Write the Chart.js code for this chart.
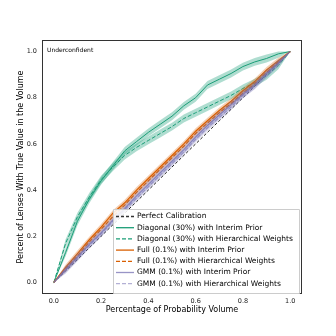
<!DOCTYPE html>
<html><head><meta charset="utf-8">
<script src="https://cdn.jsdelivr.net/npm/chart.js@4.4.1/dist/chart.umd.min.js"></script>
<style>html,body{margin:0;padding:0;background:#fff}#c{display:block}</style>
</head><body>
<canvas id="c" width="336" height="336"></canvas>
<script>
const xVals = [0,0.05,0.1,0.15,0.2,0.25,0.3,0.35,0.4,0.45,0.5,0.55,0.6,0.65,0.7,0.75,0.8,0.85,0.9,0.95,1];
const perfect = [0,0.05,0.1,0.15,0.2,0.25,0.3,0.35,0.4,0.45,0.5,0.55,0.6,0.65,0.7,0.75,0.8,0.85,0.9,0.95,1];
const diagInterim = [0,0.13,0.265,0.36,0.44,0.505,0.57,0.61,0.65,0.685,0.72,0.765,0.80,0.855,0.88,0.905,0.935,0.955,0.97,0.99,1];
const diagHier = [0,0.17,0.285,0.37,0.445,0.50,0.55,0.585,0.615,0.645,0.675,0.71,0.735,0.76,0.785,0.81,0.84,0.865,0.895,0.94,1];
const fullInterim = [0,0.065,0.125,0.185,0.24,0.30,0.345,0.40,0.45,0.50,0.55,0.60,0.655,0.70,0.745,0.785,0.83,0.87,0.92,0.96,1];
const fullHier = [0,0.06,0.115,0.175,0.23,0.285,0.335,0.39,0.44,0.49,0.54,0.59,0.645,0.69,0.735,0.775,0.82,0.86,0.91,0.955,1];
const gmmInterim = [0,0.055,0.11,0.165,0.215,0.27,0.32,0.375,0.425,0.475,0.525,0.575,0.63,0.68,0.725,0.77,0.815,0.855,0.905,0.95,1];
const gmmHier = [0,0.055,0.105,0.16,0.21,0.265,0.315,0.365,0.415,0.465,0.515,0.565,0.62,0.67,0.715,0.76,0.81,0.85,0.9,0.95,1];
const bandWidth = {diagInterim:0.017, diagHier:0.017, fullInterim:0.013, fullHier:0.011, gmmInterim:0.016, gmmHier:0.013};
const legendLabels = ["Perfect Calibration","Diagonal (30%) with Interim Prior","Diagonal (30%) with Hierarchical Weights","Full (0.1%) with Interim Prior","Full (0.1%) with Hierarchical Weights","GMM (0.1%) with Interim Prior","GMM (0.1%) with Hierarchical Weights"];
const xTicks = [0,0.2,0.4,0.6,0.8,1.0];

const GREEN='#1b9e77', ORANGE='#d95f02', PURPLE='#7570b3';
const pts = a => a.map((y,i)=>({x:xVals[i],y:y}));
const band = (a,w,s) => a.map((y,i)=>({x:xVals[i],y:Math.min(1,Math.max(0,y+s*w*(i===0||i===a.length-1?0:1)))}));

const series = [
  {key:'gmmHier', data:gmmHier, color:'rgba(117,112,179,0.55)', fillc:'rgba(117,112,179,0.25)', dash:[4,2], w:1.2},
  {key:'gmmInterim', data:gmmInterim, color:'rgba(117,112,179,0.75)', fillc:'rgba(117,112,179,0.3)', dash:[], w:1.2},
  {key:'fullHier', data:fullHier, color:ORANGE, fillc:'rgba(217,95,2,0.25)', dash:[4,2], w:1.2},
  {key:'fullInterim', data:fullInterim, color:ORANGE, fillc:'rgba(217,95,2,0.3)', dash:[], w:1.2},
  {key:'diagHier', data:diagHier, color:GREEN, fillc:'rgba(27,158,119,0.35)', dash:[4,2], w:1.0},
  {key:'diagInterim', data:diagInterim, color:GREEN, fillc:'rgba(27,158,119,0.35)', dash:[], w:1.0},
];
const datasets = [];
series.forEach(s=>{
  const w = bandWidth[s.key];
  datasets.push({data:band(s.data,w,-1), borderWidth:0, pointRadius:0, fill:false, tension:0});
  datasets.push({data:band(s.data,w,1), borderWidth:0, pointRadius:0, fill:'-1', backgroundColor:s.fillc, tension:0});
  datasets.push({data:pts(s.data), borderColor:s.color, borderWidth:s.w, borderDash:s.dash, pointRadius:0, fill:false, tension:0});
});
datasets.push({data:pts(perfect), borderColor:'#222', borderWidth:1, borderDash:[3,2], pointRadius:0, fill:false});

const legendItems = [
  {c:'#333', d:[3,2]}, {c:GREEN, d:[]}, {c:GREEN, d:[4,2]}, {c:ORANGE, d:[]}, {c:ORANGE, d:[4,2]},
  {c:'rgba(117,112,179,0.75)', d:[]}, {c:'rgba(117,112,179,0.55)', d:[4,2]}
];

const framePlugin = {
  id:'frame',
  afterDatasetsDraw(chart){
    const {ctx, chartArea:a} = chart;
    ctx.save();
    ctx.strokeStyle='#333'; ctx.lineWidth=1;
    ctx.strokeRect(a.left+0.5, a.top+0.5, a.right-a.left-1, a.bottom-a.top-1);
    ctx.font='6px "DejaVu Sans"'; ctx.fillStyle='#000'; ctx.textBaseline='middle';
    ctx.fillText('Underconfident', a.left+5, a.top+10);
    // legend
    const lx=113, ly=209, lw=186, lh=84;
    ctx.fillStyle='rgba(255,255,255,0.85)'; ctx.strokeStyle='#ccc'; ctx.lineWidth=1;
    ctx.beginPath(); ctx.rect(lx+0.5,ly+0.5,lw,lh); ctx.fill(); ctx.stroke();
    ctx.font='7.5px "DejaVu Sans"'; ctx.textBaseline='middle';
    legendLabels.forEach((t,i)=>{
      const y = ly+7.5+i*11.2;
      ctx.strokeStyle=legendItems[i].c; ctx.lineWidth=1.3; ctx.setLineDash(legendItems[i].d);
      ctx.beginPath(); ctx.moveTo(116,y); ctx.lineTo(134,y); ctx.stroke();
      ctx.setLineDash([]);
      ctx.fillStyle='#000'; ctx.fillText(t,137,y);
    });
    ctx.restore();
  }
};

new Chart(document.getElementById('c'), {
  type:'line',
  data:{datasets},
  plugins:[framePlugin],
  options:{
    responsive:false, animation:false, devicePixelRatio:1,
    layout:{padding:{top:40,right:34,left:16,bottom:21}},
    plugins:{legend:{display:false}, tooltip:{enabled:false}},
    scales:{
      x:{type:'linear', min:-0.05, max:1.05,
        afterBuildTicks:s=>{s.ticks=xTicks.map(v=>({value:v}));},
        afterFit:s=>{s.height=21;},
        grid:{display:false, drawTicks:true, tickLength:3, tickColor:'#333'},
        border:{display:false},
        ticks:{font:{size:6.5,family:'DejaVu Sans'}, color:'#222', maxRotation:0, padding:0, callback:v=>v.toFixed(1)},
        title:{display:true, text:'Percentage of Probability Volume', font:{size:8,family:'DejaVu Sans'}, color:'#000', padding:{top:0,bottom:0}}
      },
      y:{type:'linear', min:-0.05, max:1.05,
        afterBuildTicks:s=>{s.ticks=xTicks.map(v=>({value:v}));},
        afterFit:s=>{s.width=26;},
        grid:{display:false, drawTicks:true, tickLength:3, tickColor:'#333'},
        border:{display:false},
        ticks:{font:{size:6.5,family:'DejaVu Sans'}, color:'#222', padding:2, callback:v=>v.toFixed(1)},
        title:{display:true, text:'Percent of Lenses With True Value in the Volume', font:{size:8,family:'DejaVu Sans'}, color:'#000', padding:{top:0,bottom:0}}
      }
    }
  }
});
</script>
</body></html>
